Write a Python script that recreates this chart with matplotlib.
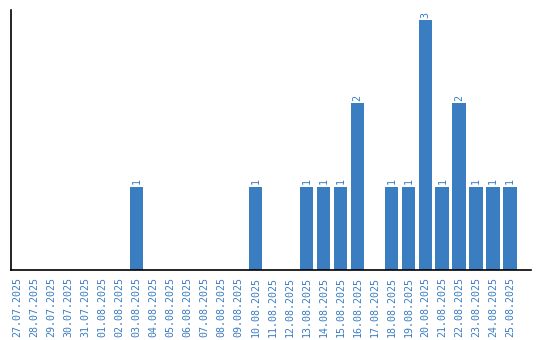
import matplotlib
matplotlib.use("Agg")
import matplotlib.pyplot as plt
import numpy as np

# Daily counts, 27.07.2025 - 25.08.2025
dates = [
    "27.07.2025", "28.07.2025", "29.07.2025", "30.07.2025", "31.07.2025",
    "01.08.2025", "02.08.2025", "03.08.2025", "04.08.2025", "05.08.2025",
    "06.08.2025", "07.08.2025", "08.08.2025", "09.08.2025", "10.08.2025",
    "11.08.2025", "12.08.2025", "13.08.2025", "14.08.2025", "15.08.2025",
    "16.08.2025", "17.08.2025", "18.08.2025", "19.08.2025", "20.08.2025",
    "21.08.2025", "22.08.2025", "23.08.2025", "24.08.2025", "25.08.2025",
]
counts = [0, 0, 0, 0, 0, 0, 0, 1, 0, 0,
          0, 0, 0, 0, 1, 0, 0, 1, 1, 1,
          2, 0, 1, 1, 3, 1, 2, 1, 1, 1]

blue = "#3b7dc1"

fig = plt.figure(figsize=(5.4, 3.4), dpi=100)
ax = fig.add_axes([11 / 540, 70 / 340, 520 / 540, 260 / 340])

x = np.arange(len(dates))
bars = ax.bar(x, counts, width=0.8, color=blue)

# value labels above non-empty bars
for xi, c in zip(x, counts):
    if c > 0:
        ax.text(xi, c + 0.03, str(c), rotation=90, ha="center", va="bottom",
                color=blue, fontsize=7.2, family="DejaVu Sans Mono")

ax.set_xticks(x)
ax.set_xticklabels(dates, rotation=90, color=blue, fontsize=7.2,
                   family="DejaVu Sans Mono")
ax.tick_params(axis="x", length=0, pad=5)
ax.set_yticks([])
ax.set_xlim(-0.38, 30.22)
ax.set_ylim(0, 3.12)

for side in ["top", "right"]:
    ax.spines[side].set_visible(False)
ax.spines["left"].set_linewidth(1.2)
ax.spines["bottom"].set_linewidth(1.2)

fig.savefig("out.png", dpi=100)
plt.close(fig)
